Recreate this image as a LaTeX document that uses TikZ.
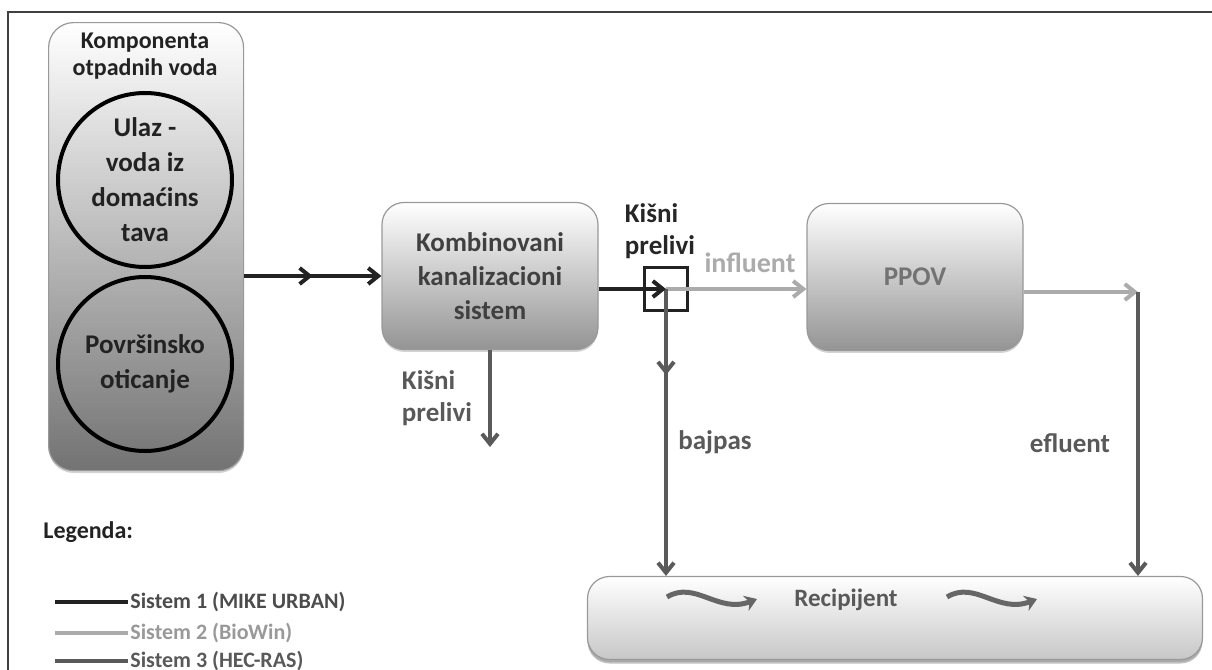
\documentclass[tikz,border=0pt]{standalone}
\usepackage{fontspec}
\setmainfont{Carlito}
\usetikzlibrary{arrows.meta,shadows,decorations.markings}
\definecolor{sysA}{HTML}{222222}
\definecolor{sysB}{HTML}{ABABAB}
\definecolor{sysC}{HTML}{5A5A5A}

\begin{document}
\begin{tikzpicture}[x=0.5pt,y=-0.5pt,font=\bfseries,
    >={Straight Barb[length=5pt,width=8pt]},
    box/.style={draw=black!40,line width=0.6pt,rounded corners=11pt,top color=white,bottom color=black!42,
      minimum width=108pt,minimum height=73.5pt,align=center,font=\fontsize{13.5}{17}\bfseries,
      drop shadow={shadow xshift=0pt,shadow yshift=-1.2pt,opacity=0.35}},
    ring/.style={circle,draw=black,line width=2pt,minimum size=87pt,inner sep=0pt,align=center,
      text=sysA,font=\fontsize{13.5}{17.5}\bfseries},
    lbl/.style={inner sep=0pt,align=left,font=\fontsize{13.5}{16}\bfseries},
    legtxt/.style={anchor=west,inner sep=1pt,font=\fontsize{11}{13}\bfseries},
    pipe/.style={line width=2pt},
    midarrow/.style={postaction={decorate,decoration={markings,mark=at position #1 with {\arrow{>}}}}}
  ]
  \useasboundingbox (0,0) rectangle (1212,670);
  \draw[line width=1pt,black!75] (8,670) -- (8,12) -- (1212,12);

  % komponente
  \node[box,minimum width=97.5pt,minimum height=224pt,rounded corners=12.5pt,bottom color=black!55,
    anchor=north west] (komp) at (48,22) {};
  \node[font=\fontsize{12}{13.5}\bfseries,align=center,text=sysA] (naslov) at (145,56) {Komponenta\\otpadnih voda};
  \node[ring] (ulaz) at (145,180) {Ulaz -\\voda iz\\domaćins\\tava};
  \node[ring] (povrs) at (145,364) {Površinsko\\oticanje};

  \node[box,text=black!75] (kanal) at (490,276) {Kombinovani\\kanalizacioni\\sistem};
  \node[box,text=black!55] (ppov) at (915,277) {PPOV};
  \node[box,minimum width=307.5pt,minimum height=41.5pt,bottom color=black!22,
    drop shadow={shadow xshift=0pt,shadow yshift=-2pt,opacity=0.5}] (rec) at (895,618) {};
  \node[inner sep=0pt,text=black!65,font=\fontsize{12.5}{14}\bfseries] (rectxt) at (846,600) {Recipijent};
  \node[draw=sysA,line width=1.3pt,minimum size=21.5pt,inner sep=0pt] (cso) at (666,289) {};

  % tokovi
  \draw[pipe,sysA,->,midarrow=0.5] (komp.east |- kanal) -- (kanal.west);
  \draw[pipe,sysB,->] (cso.center) -- (ppov.west |- cso);
  \draw[pipe,sysC,->,midarrow=0.3] (cso.center) -- (cso |- rec.north);
  \draw[pipe,sysA,->] (kanal.east |- cso) -- (cso.center);
  \coordinate (kp) at (490,447);
  \draw[pipe,sysC,->] (kanal.south) -- (kp);
  \coordinate (ef) at (1138,292);
  \draw[pipe,sysB,->] (ppov.east |- ef) -- (ef);
  \draw[pipe,sysC,->] (ef) -- (ef |- rec.north);

  \node[lbl,text=black!65] (kp1) at (437,398) {Kišni\\prelivi};
  \node[lbl,text=black!85] (kp2) at (660,231) {Kišni\\prelivi};
  \node[lbl,text=sysB,font=\fontsize{14}{16}\bfseries] (infl) at (750,263) {influent};
  \node[lbl,text=black!65] (bajp) at (715,442) {bajpas};
  \node[lbl,text=black!65] (efl) at (1070,443) {efluent};

  \draw[line width=2.5pt,black!60,-{Stealth[length=6pt,width=8pt]}] (667,597) .. controls (695,580) and (718,614) .. (757,599);
  \draw[line width=2.5pt,black!60,-{Stealth[length=6pt,width=8pt]}] (947,597) .. controls (975,580) and (998,614) .. (1037,599);

  % legenda
  \node[anchor=west,inner sep=0pt,font=\fontsize{12}{14}\bfseries,text=sysA] (leg) at (43,532) {Legenda:};
  \node[legtxt,text=black!70] (s1) at (128,602) {Sistem 1 (MIKE URBAN)};
  \node[legtxt,text=black!40] (s2) at (128,633) {Sistem 2 (BioWin)};
  \node[legtxt,text=black!65] (s3) at (128,661) {Sistem 3 (HEC-RAS)};
  \draw[pipe,sysA] (s1.west) -- ++(-73,0);
  \draw[pipe,sysB] (s2.west) -- ++(-73,0);
  \draw[pipe,sysC] (s3.west) -- ++(-73,0);
\end{tikzpicture}
\end{document}
